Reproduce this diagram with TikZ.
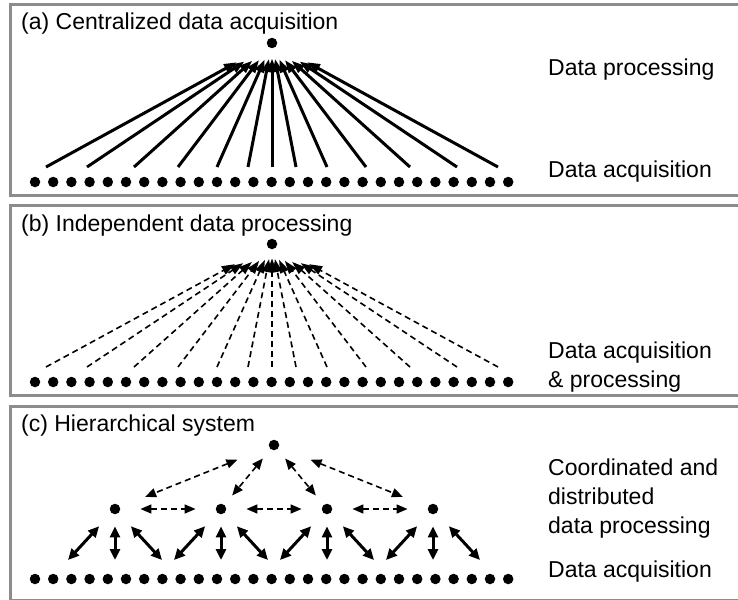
\documentclass[tikz,border=0pt]{standalone}
\usepackage{fontspec}
\setmainfont{Liberation Sans}
\usetikzlibrary{arrows.meta, calc}
\definecolor{ramec}{HTML}{8C8C8C}

\begin{document}
\begin{tikzpicture}[x=1pt, y=-1pt, >={Triangle[length=13pt,width=9pt]},
  font=\fontsize{23}{29}\selectfont,
  tecka/.style={circle, fill, inner sep=0pt, minimum size=10.5pt},
  plna/.style={->, line width=3pt},
  carb/.style={->, line width=1.6pt, dash pattern=on 6pt off 4pt},
  carc/.style={<->, line width=1.6pt, dash pattern=on 6pt off 4pt,
    >={Triangle[length=11pt,width=9pt]}},
  plnc/.style={<->, line width=3pt, >={Triangle[length=11pt,width=10pt]}},
  popis/.style={anchor=base west, inner sep=0pt}]
  \useasboundingbox (0,0) rectangle (738,599);
  % Ramecky
  \foreach \y/\v in {5/195, 205/395, 406/600}
    \draw[ramec, line width=3pt] (10,\y) rectangle (760,\v);
  % Tecky dole
  \foreach \r/\y in {a/182, b/382, c/579}
    \foreach \k in {1,...,27}
      \node[tecka] (\r\k) at ({35+18.2*(\k-1)},\y) {};

  % (a) centralni sber
  \node[popis] (na) at (21,30) {(a) Centralized data acquisition};
  \node[tecka] (ha) at (272,43) {};
  \node[popis] (pa1) at (548,76) {Data processing};
  \node[popis] (pa2) at (548,177) {Data acquisition};
  \foreach \o [count=\i] in {-226,-185,-138,-94,-55,-24,0,24,55,94,138,185,226} {
    \coordinate (sa\i) at ({272+\o},167);
    \pgfmathsetmacro{\s}{(15+4*abs(\o)/226)/124*veclen(\o,124)-5}
    \draw[plna, shorten >=\s pt] (sa\i) -- (ha);
  }

  % (b) nezavisle zpracovani
  \node[popis] (nb) at (21,231) {(b) Independent data processing};
  \node[tecka] (hb) at (272,244) {};
  \node[popis] (pb1) at (548,358) {Data acquisition};
  \node[popis] (pb2) at (548,387) {\& processing};
  \foreach \o [count=\i] in {-226,-185,-138,-94,-55,-24,0,24,55,94,138,185,226} {
    \coordinate (sb\i) at ({272+\o},367);
    \pgfmathsetmacro{\s}{(14+6*abs(\o)/226)/123*veclen(\o,123)-5}
    \draw[carb, shorten >=\s pt] (sb\i) -- (hb);
  }

  % (c) hierarchie
  \node[popis] (nc) at (21,431) {(c) Hierarchical system};
  \node[tecka] (hc) at (274,445) {};
  \foreach \i/\x in {1/115, 2/221, 3/327, 4/433}
    \node[tecka] (m\i) at (\x,509) {};
  \node[popis] (pc1) at (548,475) {Coordinated and};
  \node[popis] (pc2) at (548,504) {distributed};
  \node[popis] (pc3) at (548,533) {data processing};
  \node[popis] (pc4) at (548,577) {Data acquisition};
  \foreach \m/\a/\b in {m1/34/27, m2/12/12, m3/12/12, m4/34/27}
    \draw[carc, shorten <=\a pt, shorten >=\b pt] (hc) -- (\m);
  \foreach \i/\j in {1/2, 2/3, 3/4}
    \draw[carc, shorten <=20pt, shorten >=20pt] (m\i) -- (m\j);
  \foreach \i in {1,...,4} {
    \coordinate (dl\i) at ($(m\i)+(-47,51)$);
    \coordinate (dv\i) at ($(m\i)+(0,51)$);
    \coordinate (dr\i) at ($(m\i)+(47,51)$);
    \draw[plnc, shorten <=18pt] (m\i) -- (dl\i);
    \draw[plnc, shorten <=12pt] (m\i) -- (dv\i);
    \draw[plnc, shorten <=18pt] (m\i) -- (dr\i);
  }
\end{tikzpicture}
\end{document}
